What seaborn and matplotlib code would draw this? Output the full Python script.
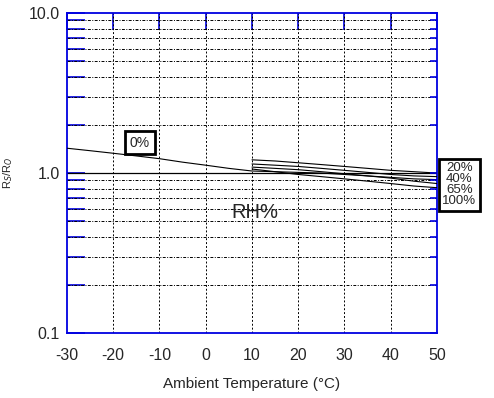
import numpy as np
import pandas as pd
import matplotlib
matplotlib.use('Agg')
import matplotlib.pyplot as plt
import seaborn as sns
from matplotlib.ticker import LogLocator, FixedLocator, NullFormatter

# data
temp_dry = [-30, -25, -20, -15, -10, -5, 0, 5, 10, 15, 20, 25, 30, 35, 40, 45, 50]
rs_dry = [1.43, 1.38, 1.33, 1.28, 1.23, 1.17, 1.12, 1.07, 1.03, 1.02, 1.01, 1.00, 0.98, 0.96, 0.94, 0.92, 0.91]

temp_wet = [10, 15, 20, 25, 30, 35, 40, 45, 50]
rs_20 = [1.21, 1.19, 1.16, 1.13, 1.10, 1.07, 1.04, 1.02, 1.00]
rs_40 = [1.14, 1.12, 1.10, 1.07, 1.04, 1.01, 0.98, 0.96, 0.95]
rs_65 = [1.09, 1.07, 1.05, 1.02, 0.99, 0.96, 0.93, 0.89, 0.86]
rs_100 = [1.06, 1.02, 0.98, 0.95, 0.92, 0.89, 0.86, 0.83, 0.81]

rh_labels = ['20%', '40%', '65%', '100%']
x_ticks = [-30, -20, -10, 0, 10, 20, 30, 40, 50]

frames = [pd.DataFrame({'temp': temp_dry, 'rs': rs_dry, 'rh': '0%'})]
for lab, vals in zip(rh_labels, [rs_20, rs_40, rs_65, rs_100]):
    frames.append(pd.DataFrame({'temp': temp_wet, 'rs': vals, 'rh': lab}))
df = pd.concat(frames, ignore_index=True)

sns.set_style('white')
plt.rcParams['font.family'] = ['Liberation Sans', 'DejaVu Sans']

fig = plt.figure(figsize=(4.94, 3.98), dpi=100)
ax = fig.add_axes([0.1356, 0.1633, 0.749, 0.8037])

blue = '#0000e0'

# grid first so curves sit on top
ax.set_yscale('log')
ax.set_xlim(-30, 50)
ax.set_ylim(0.1, 10)
for x in x_ticks[1:-1]:
    ax.axvline(x, color='black', lw=0.7, ls=(0, (2, 2)), zorder=1)
for dec in [0.1, 1.0]:
    for m in range(2, 10):
        ax.axhline(dec * m, color='black', lw=0.7, ls=(0, (3, 1.5, 1, 1.5)), zorder=1)
ax.axhline(1.0, color='black', lw=0.9, zorder=1)

sns.lineplot(data=df, x='temp', y='rs', units='rh', estimator=None,
             color='black', lw=0.8, legend=False, ax=ax, zorder=3)

ax.xaxis.set_major_locator(FixedLocator(x_ticks))
ax.set_xticklabels([str(t) for t in x_ticks])
ax.yaxis.set_major_locator(FixedLocator([0.1, 1.0, 10.0]))
ax.set_yticklabels(['0.1', '1.0', '10.0'])
ax.yaxis.set_minor_locator(LogLocator(base=10, subs=np.arange(2, 10)))
ax.yaxis.set_minor_formatter(NullFormatter())

ax.tick_params(which='both', direction='in', width=1.2, color=blue,
               top=True, right=False, labelsize=11.5)
ax.tick_params(axis='x', length=12, pad=11)
ax.tick_params(axis='y', which='both', length=13, pad=5)
for s in ax.spines.values():
    s.set_color(blue)
    s.set_linewidth(1.3)
    s.set_visible(True)

# short ticks on the right edge
axr = ax.twinx()
axr.set_yscale('log')
axr.set_ylim(ax.get_ylim())
axr.yaxis.set_major_locator(FixedLocator([0.1, 1.0, 10.0]))
axr.yaxis.set_minor_locator(LogLocator(base=10, subs=np.arange(2, 10)))
axr.yaxis.set_major_formatter(NullFormatter())
axr.yaxis.set_minor_formatter(NullFormatter())
axr.tick_params(which='both', direction='in', length=5, width=1.2, color=blue)
for s in axr.spines.values():
    s.set_visible(False)
axr.grid(False)

ax.set_xlabel('Ambient Temperature (\u00b0C)', fontsize=11, labelpad=10)
ax.set_ylabel('R$_S$/R$_O$', fontsize=8)
ax.yaxis.set_label_coords(-0.14, 0.5)

ax.text(-14.3, 1.55, '0%', fontsize=10, ha='center', va='center', zorder=4,
        bbox=dict(boxstyle='square,pad=0.35', fc='white', ec='black', lw=2))
ax.text(10.6, 0.57, 'RH%', fontsize=14.5, ha='center', va='center', zorder=4)
ax.text(1.06, 1.17, '\n'.join(rh_labels), transform=ax.get_yaxis_transform(),
        fontsize=9.5, ha='center', va='top', linespacing=0.9, clip_on=False, zorder=5,
        bbox=dict(boxstyle='square,pad=0.25', fc='white', ec='black', lw=2))

fig.savefig('out.png', dpi=100)
